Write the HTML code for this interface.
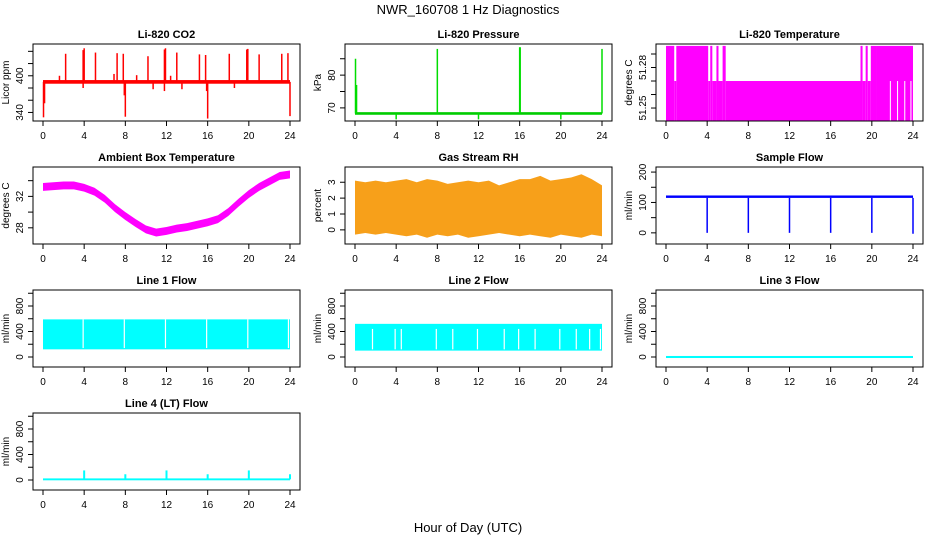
<!DOCTYPE html>
<html><head><meta charset="utf-8"><style>
body{margin:0;background:#fff}
svg{display:block;font-family:"Liberation Sans",sans-serif}
</style></head><body>
<svg id="c" width="936" height="540" viewBox="0 0 936 540" xmlns="http://www.w3.org/2000/svg">
<rect width="936" height="540" fill="#fff"/>
<text x="468" y="14" text-anchor="middle" font-size="13">NWR_160708  1 Hz Diagnostics</text>
<text x="468" y="532" text-anchor="middle" font-size="13">Hour of Day (UTC)</text>
</svg>
<script>
// ---- data ----
const xTicks=[0,4,8,12,16,20,24];
// CO2
const co2Base=390;
const co2UpHours=[2.2,3.9,4.0,5.1,7.2,7.8,10.2,11.8,11.9,13.0,15.2,15.8,18.1,19.8,19.9,21.0,23.2,23.8,1.6,6.9,9.1,12.4];
const co2UpVals=[436,442,445,438,437,436,432,443,445,438,435,434,436,443,444,435,436,437,400,403,401,400];
const co2DownHours=[0.05,0.15,8.0,7.9,16.0,15.9,24.0,11.8,3.9,13.5,10.7,18.6];
const co2DownVals=[332,355,333,368,330,375,334,375,380,378,378,380];
const co2Ticks=[340,360,380,400,420,440];const co2Labels=["340","","","400","",""];
// Pressure
const presBase=68.3;
const presSpikeHours=[0.05,0.15,8.0,16.0,16.05,24.0,4.0,12.0,20.0];
const presSpikeVals=[85,77,88,88.5,88.5,88,66.5,66.5,66.5];
const presTicks=[70,75,80,85];const presLabels=["70","","80",""];
// Li-820 temperature segments
const tempSegStart=[0,0.8,1.0,4.1,4.3,4.5,4.9,5.1,5.5,5.8,18.9,19.1,19.4,19.6,19.9,20.5];
const tempSegEnd=[0.8,1.0,4.1,4.3,4.5,4.9,5.1,5.5,5.8,18.9,19.1,19.4,19.6,19.9,20.5,24.0];
const tempSegTop=[51.296,51.27,51.296,51.27,51.296,51.27,51.296,51.27,51.296,51.27,51.296,51.27,51.296,51.27,51.296,51.296];
const tempGapHours=[21.8,22.5,23.2,23.8];
const tempTicks=[51.25,51.26,51.27,51.28,51.29];const tempLabels=["51.25","","","51.28",""];
// Ambient box temperature (hourly mean)
const ambHours=[0,1,2,3,4,5,6,7,8,9,10,11,12,13,14,15,16,17,18,19,20,21,22,23,24];
const ambVals=[33.2,33.3,33.4,33.4,33.1,32.6,31.7,30.5,29.5,28.6,27.8,27.4,27.6,27.9,28.1,28.4,28.7,29.1,30.0,31.2,32.3,33.2,33.9,34.6,34.8];
const ambTicks=[28,30,32,34];const ambLabels=["28","","32",""];
// Gas stream RH envelope (hourly)
const rhHours=[0,1,2,3,4,5,6,7,8,9,10,11,12,13,14,15,16,17,18,19,20,21,22,23,24];
const rhMax=[3.1,3.0,3.1,3.0,3.1,3.2,3.0,3.2,3.1,2.9,3.0,3.1,3.0,3.1,2.8,3.0,3.2,3.2,3.4,3.1,3.2,3.3,3.5,3.2,2.8];
const rhMin=[-0.3,-0.2,-0.3,-0.2,-0.3,-0.4,-0.3,-0.5,-0.3,-0.4,-0.3,-0.5,-0.4,-0.3,-0.2,-0.3,-0.4,-0.3,-0.4,-0.5,-0.3,-0.4,-0.5,-0.3,-0.4];
const rhTicks=[0,1,2,3];const rhLabels=["0","1","2","3"];
// Sample flow
const sfBaseLow=115,sfBaseHigh=123;
const sfDipHours=[4,8,12,16,20,24];
const sfDipVals=[0,0,0,0,0,-3];
const sfTicks=[0,50,100,150,200];const sfLabels=["0","","100","","200"];
// Line flows
const flowTicks=[0,200,400,600,800,1000];const flowLabels=["0","","400","","800",""];
const l1Low=120,l1High=590;
const l1GapHours=[3.9,7.9,11.9,15.9,19.9,23.85];
const l2Low=100,l2High=520;
const l2GapHours=[1.7,3.9,4.5,7.9,9.5,11.9,14.5,15.9,17.5,19.9,21.5,22.8,23.85];
const l3Val=0;
const l4Base=10;
const l4SpikeHours=[4,8,12,16,20,24];
const l4SpikeVals=[150,90,150,90,150,90];

// ---- layout ----
const NS="http://www.w3.org/2000/svg";
const svg=document.getElementById('c');
function el(tag,attrs,parent){const e=document.createElementNS(NS,tag);for(const k in attrs)e.setAttribute(k,attrs[k]);(parent||svg).appendChild(e);return e;}
const colL=[33,345,656],W=267;
const rowT=[44,167,290,413],H=77;
function panel(name,col,row,title,ylab,ymin,ymax,yt,yl){
  const g=el('g',{});
  
  
  const L=colL[col],T=rowT[row];
  const sx=v=>L+10+v*(W-20)/24;
  const sy=v=>T+H-(v-ymin)/(ymax-ymin)*H;
  const t=el('text',{x:L+W/2,y:T-6,'text-anchor':'middle','font-size':11,'font-weight':'bold'},g);t.textContent=title;
  
  
  const yl2=el('text',{transform:`translate(${L-24},${T+H/2}) rotate(-90)`,'text-anchor':'middle','font-size':10},g);yl2.textContent=ylab;
  
  
  const plot=el('g',{},g);
  
  
  const box=el('rect',{x:L,y:T,width:W,height:H,fill:'none',stroke:'#000','stroke-width':1},g);
  
  
  xTicks.forEach(v=>{el('line',{x1:sx(v),x2:sx(v),y1:T+H,y2:T+H+5,stroke:'#000'},g);
    const tx=el('text',{x:sx(v),y:T+H+18,'text-anchor':'middle','font-size':10},g);tx.textContent=v;
    
    });
  yt.forEach((v,i)=>{el('line',{x1:L-5,x2:L,y1:sy(v),y2:sy(v),stroke:'#000'},g);
    if(yl[i]){const ty=el('text',{transform:`translate(${L-10},${sy(v)}) rotate(-90)`,'text-anchor':'middle','font-size':10},g);ty.textContent=yl[i];
    
    }});
  return {g:plot,sx,sy};
}
function vline(p,x,y1,y2,c,w){el('line',{x1:p.sx(x),x2:p.sx(x),y1:p.sy(y1),y2:p.sy(y2),stroke:c,'stroke-width':w||1.5},p.g);}
function hband(p,x1,x2,lo,hi,c){el('rect',{x:p.sx(x1),y:p.sy(hi),width:p.sx(x2)-p.sx(x1),height:p.sy(lo)-p.sy(hi),fill:c},p.g);}

// CO2
let p=panel('co2',0,0,'Li-820 CO2','Licor ppm',326,452,co2Ticks,co2Labels);
hband(p,0,24,co2Base-3,co2Base+3,'#f00');
co2UpHours.forEach((h,i)=>vline(p,h,co2Base,co2UpVals[i],'#f00',1.5));
co2DownHours.forEach((h,i)=>vline(p,h,co2Base,co2DownVals[i],'#f00',1.5));
// Pressure
p=panel('pressure',1,0,'Li-820 Pressure','kPa',66,89.5,presTicks,presLabels);
hband(p,0,24,presBase-0.4,presBase+0.4,'#0c0');
presSpikeHours.forEach((h,i)=>vline(p,h,presBase,presSpikeVals[i],'#0d0',1.5));
// Li-820 temperature
p=panel('li820-temp',2,0,'Li-820 Temperature','degrees C',51.2404,51.2974,tempTicks,tempLabels);
tempSegStart.forEach((s,i)=>hband(p,s,tempSegEnd[i],51.2404,tempSegTop[i],'#f0f'));
tempGapHours.forEach(h=>vline(p,h,51.2404,51.27,'#fff',1));
// Ambient
p=panel('ambient-temp',0,1,'Ambient Box Temperature','degrees C',25.94,35.74,ambTicks,ambLabels);
let pts=ambHours.map((h,i)=>p.sx(h)+','+p.sy(ambVals[i]+0.5)).concat(ambHours.slice().reverse().map((h,i)=>{const j=ambHours.length-1-i;return p.sx(h)+','+p.sy(ambVals[j]-0.5);}));
el('polygon',{points:pts.join(' '),fill:'#f0f'},p.g);
// RH
p=panel('gas-rh',1,1,'Gas Stream RH','percent',-0.89,3.96,rhTicks,rhLabels);
pts=rhHours.map((h,i)=>p.sx(h)+','+p.sy(rhMax[i])).concat(rhHours.slice().reverse().map((h,i)=>{const j=rhHours.length-1-i;return p.sx(h)+','+p.sy(rhMin[j]);}));
el('polygon',{points:pts.join(' '),fill:'#f7a01a'},p.g);
// Sample flow
p=panel('sample-flow',2,1,'Sample Flow','ml/min',-36.7,216.7,sfTicks,sfLabels);
hband(p,0,24,sfBaseLow,sfBaseHigh,'#00f');
sfDipHours.forEach((h,i)=>vline(p,h,sfBaseLow,sfDipVals[i],'#00f',1.5));
// Line 1
p=panel('line1-flow',0,2,'Line 1 Flow','ml/min',-157,1051,flowTicks,flowLabels);
hband(p,0,24,l1Low,l1High,'#0ff');
l1GapHours.forEach(h=>vline(p,h,l1Low+20,l1High,'#fff',1.2));
// Line 2
p=panel('line2-flow',1,2,'Line 2 Flow','ml/min',-157,1051,flowTicks,flowLabels);
hband(p,0,24,l2Low,l2High,'#0ff');
l2GapHours.forEach(h=>vline(p,h,l2Low+20,l2High-80,'#fff',1.2));
// Line 3
p=panel('line3-flow',2,2,'Line 3 Flow','ml/min',-157,1051,flowTicks,flowLabels);
hband(p,0,24,l3Val-16,l3Val+16,'#0ff');
// Line 4
p=panel('line4-flow',0,3,'Line 4 (LT) Flow','ml/min',-157,1051,flowTicks,flowLabels);
hband(p,0,24,l4Base-15,l4Base+15,'#0ff');
l4SpikeHours.forEach((h,i)=>vline(p,h,l4Base,l4SpikeVals[i],'#0ff',2));
</script>
</body></html>
